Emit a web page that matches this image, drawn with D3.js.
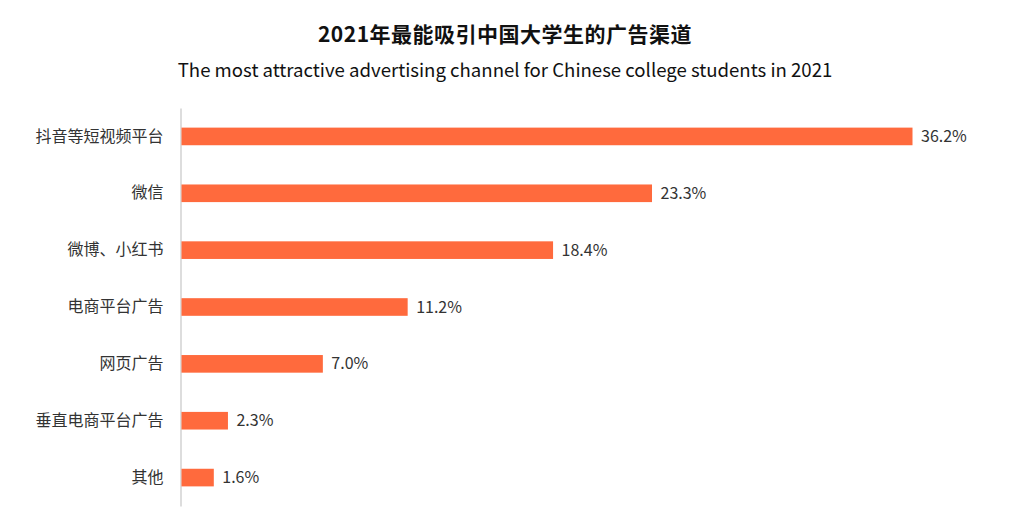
<!DOCTYPE html>
<html>
<head>
<meta charset="utf-8">
<script src="https://cdn.jsdelivr.net/npm/d3@7"></script>
<style>
  body { margin: 0; background: #fff; }
  text { font-family: "Noto Sans CJK SC", "Noto Sans", sans-serif; }
</style>
</head>
<body>
<svg id="chart" width="1019" height="527"></svg>
<script>
// 데이터
const categories = ["抖音等短视频平台", "微信", "微博、小红书", "电商平台广告", "网页广告", "垂直电商平台广告", "其他"];
const values = [36.2, 23.3, 18.4, 11.2, 7.0, 2.3, 1.6];
const title = "2021年最能吸引中国大学生的广告渠道";
const subtitle = "The most attractive advertising channel for Chinese college students in 2021";

const svg = d3.select("#chart");
const margin = { top: 108, left: 181, bottom: 21 };
const plotW = 731;
const height = 527 - margin.top - margin.bottom;

const x = d3.scaleLinear()
    .domain([0, 36.2])
    .range([0, plotW]);

const y = d3.scaleBand()
    .domain(categories)
    .range([0, height])
    .paddingInner(0.69)
    .paddingOuter(0.345);

// 제목
svg.append("text")
    .attr("x", 505)
    .attr("y", 42)
    .attr("text-anchor", "middle")
    .attr("font-size", 21)
    .attr("font-weight", "bold")
    .attr("letter-spacing", 0.5)
    .attr("fill", "#111")
    .text(title);

svg.append("text")
    .attr("x", 505)
    .attr("y", 77)
    .attr("text-anchor", "middle")
    .attr("font-size", 18.6)
    .attr("fill", "#111")
    .text(subtitle);

const g = svg.append("g")
    .attr("transform", `translate(${margin.left},${margin.top})`);

// y축
const yAxis = g.append("g")
    .attr("transform", "translate(-0.5,0)")
    .call(d3.axisLeft(y).tickSize(0).tickPadding(17));
yAxis.select(".domain").attr("stroke", "#ddd").attr("stroke-width", 2);
yAxis.selectAll("text")
    .attr("font-size", 16)
    .attr("fill", "#333")
    .style("font-family", '"Noto Sans CJK SC", sans-serif');

// 막대
g.selectAll("rect.bar")
    .data(values)
    .enter()
    .append("rect")
    .attr("class", "bar")
    .attr("x", 0.5)
    .attr("y", (d, i) => y(categories[i]))
    .attr("width", d => x(d))
    .attr("height", y.bandwidth())
    .attr("fill", "#ff6a3d");

// 값 라벨
g.selectAll("text.val")
    .data(values)
    .enter()
    .append("text")
    .attr("class", "val")
    .attr("x", d => x(d) + 9)
    .attr("y", (d, i) => y(categories[i]) + y.bandwidth() / 2)
    .attr("dy", "0.35em")
    .attr("font-size", 16)
    .attr("fill", "#333")
    .text(d => d.toFixed(1) + "%");
</script>
</body>
</html>
